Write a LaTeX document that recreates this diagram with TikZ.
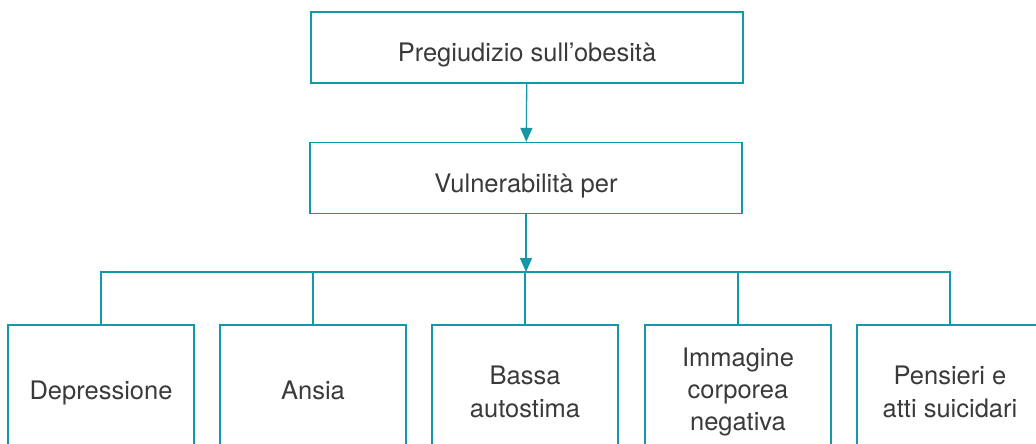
\documentclass[tikz,border=0pt]{standalone}
\usepackage{fontspec}
\setmainfont{TeX Gyre Heros}
\usetikzlibrary{arrows.meta}
\definecolor{teal}{RGB}{20,152,168}
\definecolor{txt}{RGB}{58,58,58}
\begin{document}
\begin{tikzpicture}[x=1pt,y=-1pt,
  box/.style={draw=teal,line width=1.3pt,text=txt,align=center,inner sep=0pt,
    font=\fontsize{25.5}{32.3}\selectfont},
  topbox/.style={box,minimum width=432pt,minimum height=71pt,text height=30pt,text depth=1pt},
  leaf/.style={box,minimum width=186pt,minimum height=134pt},
  oneline/.style={text height=17pt,text depth=2pt},
  conn/.style={draw=teal,line width=1.3pt},
  arr/.style={conn,-{Triangle[width=12pt,length=14pt]}}]
\useasboundingbox (0,0) rectangle (1036,444);
\clip (0,0) rectangle (1036,444);
\node[topbox] (p) at (527,47.5) {Pregiudizio sull’obesità};
\node[topbox] (v) at (526,178) {Vulnerabilità per};
\coordinate (bus) at (526,272);
\node[leaf,oneline] (d1) at (101,392) {Depressione};
\node[leaf,oneline] (d2) at (313,392) {Ansia};
\node[leaf] (d3) at (525,392) {Bassa\\autostima};
\node[leaf] (d4) at (738,392) {Immagine\\corporea\\negativa};
\node[leaf] (d5) at (950,392) {Pensieri e\\atti suicidari};
\draw[arr] (p) -- (v);
\draw[arr] (v) -- (bus);
\draw[conn] (d1.north) |- (d5.north |- bus) -- (d5.north);
\draw[conn] (d2.north) -- (d2.north |- bus);
\draw[conn] (d3.north) -- (d3.north |- bus);
\draw[conn] (d4.north) -- (d4.north |- bus);
\end{tikzpicture}
\end{document}
